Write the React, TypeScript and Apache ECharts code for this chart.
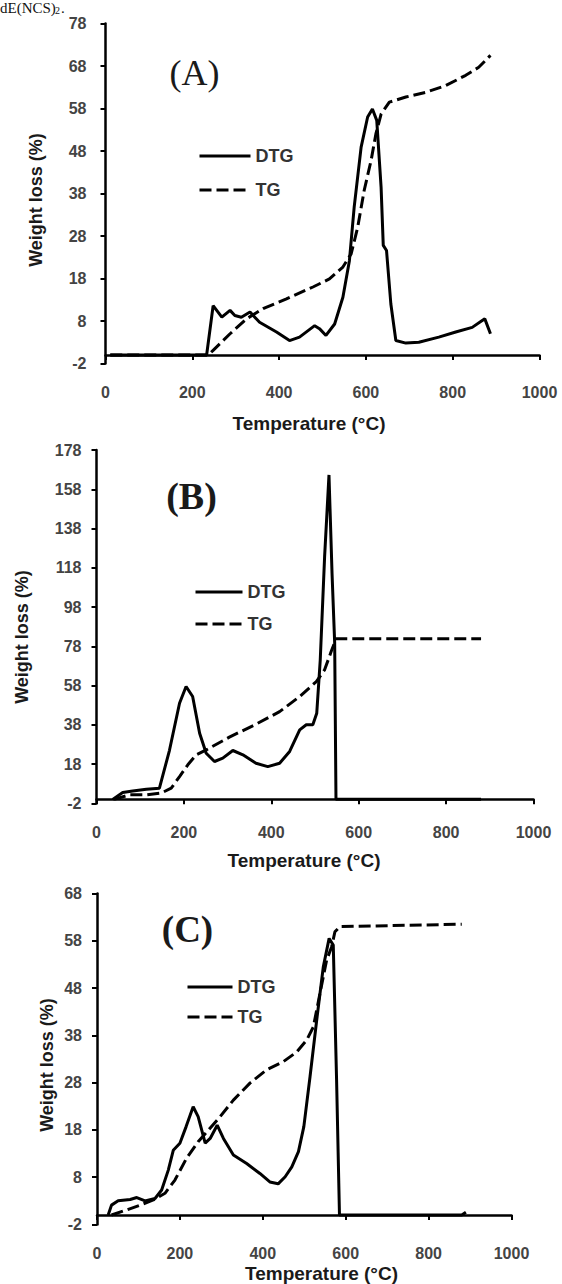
import React, { useEffect, useRef } from "react";
import * as echarts from "echarts";

// Temperature (°C) vs weight loss (%) pairs
const dtgA: number[][] = [[11,0],[233,0],[248,11.6],[268,8.9],[287,10.5],[298,9.3],[313,8.9],[333,10.1],[355,7.7],[394,5.4],[424,3.4],[447,4.2],[482,6.9],[493,6.2],[508,4.6],[528,7.3],[547,13.6],[562,22.2],[573,34.8],[589,48.9],[604,56],[615,57.9],[625,55.2],[635,39.5],[640,25.8],[647.5,24.6],[657.5,12],[669,3.4],[692,2.8],[722,3.0],[768,4.2],[807,5.4],[845,6.5],[868,8.1],[874,8.5],[887,5.0]];
const tgA: number[][] = [[11,0],[237,0],[248,1.1],[287,5],[325,8.5],[363,10.9],[417,13.2],[478,16],[516,17.9],[547,20.7],[566,23.8],[581,30],[596,38.7],[612,45.8],[623,52],[635,56.7],[654,59.5],[692,60.7],[738,61.8],[784,63.4],[830,65.8],[860,67.7],[887,70.5]];

const dtgB: number[][] = [[37,0],[60,3.5],[83,4.3],[114,5.2],[144,5.7],[167,25],[190,49],[205,57.5],[220,52.4],[236,33.7],[251,23.5],[270,19.3],[289,21],[312,24.9],[335,22.7],[365,18.4],[392,16.7],[419,18.4],[442,24.4],[465,35.4],[480,38],[495,38],[504,43.9],[512,71],[522,123.7],[532,165.3],[539,115],[545,80],[548,0],[880,0]];
const tgB: number[][] = [[40,0],[75,2.3],[114,2.3],[148,3.2],[171,5.7],[190,11.6],[209,17.6],[228,22.7],[251,25.2],[304,31.7],[365,38.3],[419,44.7],[465,52.4],[503,60],[522,66],[537,75.3],[548,81.8],[880,81.8]];

const dtgC: number[][] = [[27,0],[35,2.1],[51,3.0],[80,3.3],[96,3.7],[116,3.0],[140,3.5],[156,5.3],[172,9.5],[184,13.7],[200,15.2],[215,18.7],[232,22.9],[244,20.8],[261,15.2],[273,16.2],[290,19.0],[305,16.2],[329,12.7],[361,10.9],[393,8.8],[417,7.0],[437,6.6],[454,8.1],[470,10.2],[486,13.4],[499,18.7],[514,29.3],[530,41.2],[546,52.5],[560,58.5],[570,57.1],[578,28.6],[585,0],[880,0],[890,0.6]];
const tgC: number[][] = [[35,0],[72,1.1],[104,2.1],[136,3.2],[164,4.6],[188,7.4],[216,12],[244,15.5],[269,18],[297,20.8],[329,24.3],[369,27.9],[409,30.7],[449,32.4],[482,34.5],[506,37],[522,39.8],[538,46.9],[554,53.9],[566,56.7],[574,59.9],[586,61],[880,61.5]];

// axis ranges / tick steps
const xRange = { min: 0, max: 1000, interval: 200 };
const yRanges = [
  { min: -2, max: 78, interval: 10 },
  { min: -2, max: 178, interval: 20 },
  { min: -2, max: 68, interval: 10 },
];
const panelLabels = ["(A)", "(B)", "(C)"];
const seriesNames = ["DTG", "TG"];
const xTitle = "Temperature (°C)";
const yTitle = "Weight loss (%)";

const SANS = '"Liberation Sans", Arial, sans-serif';
const SERIF = '"Liberation Serif", "Times New Roman", serif';

export default function App() {
  const ref = useRef<HTMLDivElement>(null);

  useEffect(() => {
    if (!ref.current) return;
    const chart = echarts.init(ref.current, undefined, { renderer: "svg" });

    const grids = [
      { left: 105.5, top: 23.5, width: 434, height: 340 },
      { left: 96.5, top: 450, width: 437, height: 353.3 },
      { left: 97, top: 893.5, width: 414.5, height: 331 },
    ];
    const yLabelMargin = [19, 15, 15];

    const legendPos = [
      { left: 198, top: 146, itemWidth: 51, itemGap: 14 },
      { left: 194, top: 582, itemWidth: 47, itemGap: 12 },
      { left: 186, top: 977, itemWidth: 45, itemGap: 10 },
    ];

    const panelLabelPos = [
      { x: 194.5, y: 72.5, size: 36, weight: "normal" },
      { x: 191.5, y: 496, size: 38, weight: "bold" },
      { x: 187.5, y: 929, size: 37, weight: "bold" },
    ];
    const xTitlePos = [
      { x: 309, y: 423 },
      { x: 304, y: 860 },
      { x: 321.5, y: 1273 },
    ];
    const yTitlePos = [
      { x: 36, y: 200 },
      { x: 22, y: 637 },
      { x: 47, y: 1065 },
    ];

    const data = [
      [dtgA, tgA],
      [dtgB, tgB],
      [dtgC, tgC],
    ];

    const series: any[] = [];
    data.forEach((pair, i) => {
      pair.forEach((d, k) => {
        series.push({
          type: "line",
          name: seriesNames[k],
          xAxisIndex: i,
          yAxisIndex: i,
          data: d,
          symbol: "none",
          showSymbol: false,
          z: k === 0 ? 3 : 2,
          lineStyle: {
            color: "#000",
            width: 3,
            type: k === 0 ? "solid" : [12, 5],
          },
          itemStyle: { color: "#000" },
        });
      });
    });

    const graphic: any[] = [
      {
        type: "text",
        x: 0,
        y: 0,
        style: { text: "dE(NCS)", fontSize: 15, fontFamily: SERIF, fill: "#111", align: "left", verticalAlign: "top" },
      },
      {
        type: "text",
        x: 55,
        y: 5,
        style: { text: "2", fontSize: 10, fontFamily: SERIF, fill: "#111", align: "left", verticalAlign: "top" },
      },
      {
        type: "text",
        x: 61,
        y: 0,
        style: { text: ".", fontSize: 15, fontFamily: SERIF, fill: "#111", align: "left", verticalAlign: "top" },
      },
    ];
    for (let i = 0; i < 3; i++) {
      graphic.push({
        type: "text",
        x: panelLabelPos[i].x,
        y: panelLabelPos[i].y,
        style: {
          text: panelLabels[i],
          fontSize: panelLabelPos[i].size,
          fontWeight: panelLabelPos[i].weight,
          fontFamily: SERIF,
          fill: "#1a1a1a",
          align: "center",
          verticalAlign: "middle",
        },
      });
      graphic.push({
        type: "text",
        x: xTitlePos[i].x,
        y: xTitlePos[i].y,
        style: {
          text: xTitle,
          fontSize: 19,
          fontWeight: "bold",
          fontFamily: SANS,
          fill: "#1a1a1a",
          align: "center",
          verticalAlign: "middle",
        },
      });
      graphic.push({
        type: "text",
        x: yTitlePos[i].x,
        y: yTitlePos[i].y,
        rotation: Math.PI / 2,
        style: {
          text: yTitle,
          fontSize: 18,
          fontWeight: "bold",
          fontFamily: SANS,
          fill: "#1a1a1a",
          align: "center",
          verticalAlign: "middle",
        },
      });
    }

    const option: any = {
      animation: false,
      backgroundColor: "#fff",
      grid: grids.map((g) => ({ ...g, containLabel: false, outerBoundsMode: "none" })),
      xAxis: grids.map((_, i) => ({
        type: "value",
        gridIndex: i,
        min: xRange.min,
        max: xRange.max,
        interval: xRange.interval,
        axisLine: { show: true, onZero: true, lineStyle: { color: "#000", width: 2.5 } },
        axisTick: { show: true, length: 5, lineStyle: { color: "#000", width: 2 } },
        axisLabel: {
          margin: 21,
          fontSize: 16,
          fontWeight: "bold",
          color: "#444",
          fontFamily: SANS,
          formatter: (v: number) => String(v),
        },
        splitLine: { show: false },
      })),
      yAxis: grids.map((_, i) => ({
        type: "value",
        gridIndex: i,
        min: yRanges[i].min,
        max: yRanges[i].max,
        interval: yRanges[i].interval,
        axisLine: { show: true, onZero: false, lineStyle: { color: "#000", width: 2.5 } },
        axisTick: { show: true, length: 5, lineStyle: { color: "#000", width: 2 } },
        axisLabel: {
          margin: yLabelMargin[i],
          fontSize: 16,
          fontWeight: "bold",
          color: "#444",
          fontFamily: SANS,
          formatter: (v: number) => String(v),
        },
        splitLine: { show: false },
      })),
      legend: legendPos.map((p) => ({
        orient: "vertical",
        left: p.left,
        top: p.top,
        padding: 0,
        itemWidth: p.itemWidth,
        itemHeight: 14,
        itemGap: p.itemGap,
        selectedMode: false,
        data: seriesNames,
        lineStyle: { width: 3, color: "#000" },
        itemStyle: { color: "rgba(0,0,0,0)", borderWidth: 0, borderColor: "rgba(0,0,0,0)", opacity: 0 },
        textStyle: { fontSize: 18, fontWeight: "bold", color: "#333", fontFamily: SANS, lineHeight: 20 },
      })),
      series,
      graphic,
    };

    chart.setOption(option);
    return () => chart.dispose();
  }, []);

  return (
    <div
      ref={ref}
      style={{ position: "absolute", left: 0, top: 0, width: 562, height: 1284, background: "#fff" }}
    />
  );
}
